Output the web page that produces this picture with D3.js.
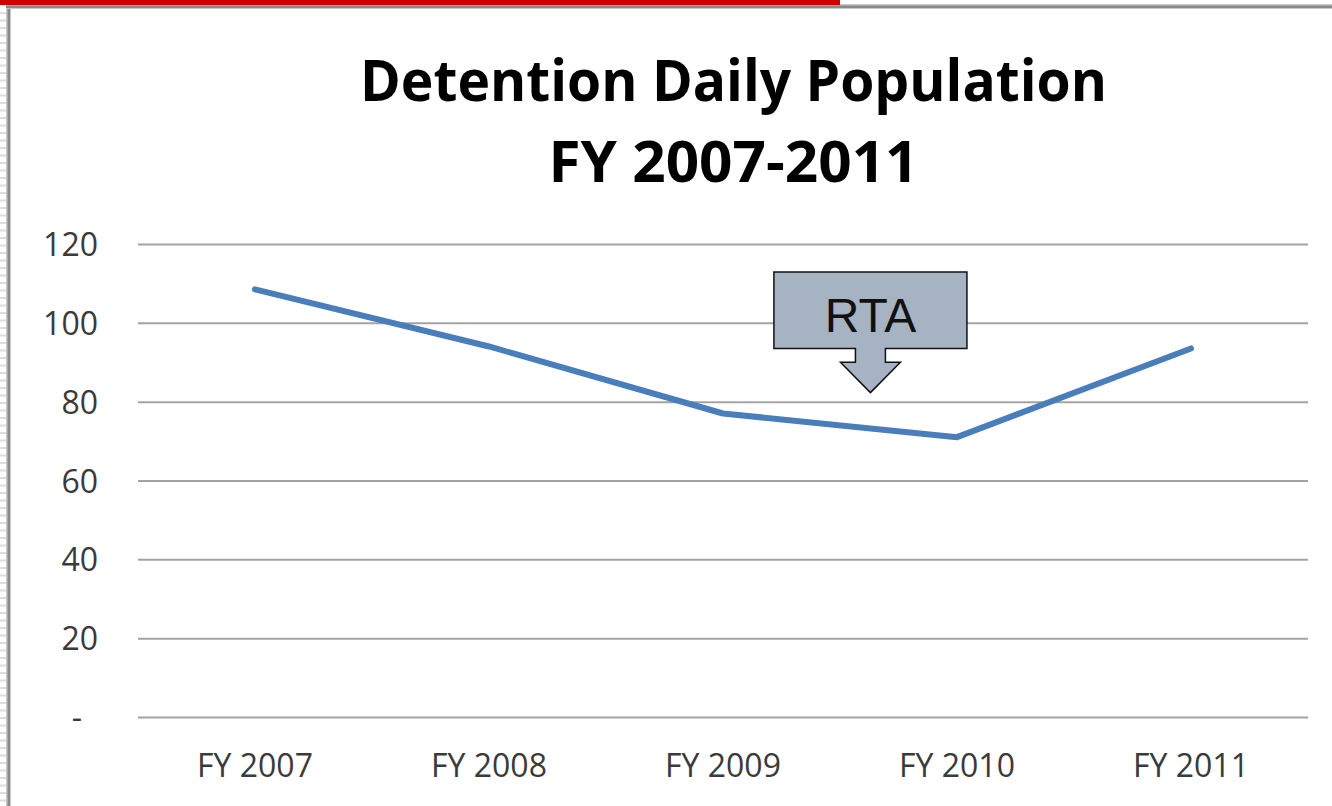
<!DOCTYPE html>
<html>
<head>
<meta charset="utf-8">
<script src="https://cdn.jsdelivr.net/npm/d3@7"></script>
<style>
  html, body { margin: 0; padding: 0; background: #ffffff; }
  svg { display: block; }
</style>
</head>
<body>
<svg id="chart" width="1332" height="806"></svg>
<script>
// ---- data ----
const categories = ["FY 2007", "FY 2008", "FY 2009", "FY 2010", "FY 2011"];
const population = [108.5, 94, 77, 71, 93.5];
const yTicks = [0, 20, 40, 60, 80, 100, 120];
const titleLines = ["Detention Daily Population", "FY 2007-2011"];
const annotationText = "RTA";

// ---- layout ----
const W = 1332, H = 806;
const plot = { left: 138, right: 1308, top: 244, bottom: 717 };
const svg = d3.select("#chart");
const fontFamily = "'Open Sans', 'Liberation Sans', sans-serif";
const textColor = "#3a3a3a";

// ---- page frame decorations ----
const frame = svg.append("g");
for (let yy = 12; yy < H; yy += 7.5) {
  frame.append("rect").attr("x", 0).attr("y", yy).attr("width", 6).attr("height", 2).attr("fill", "#dcdcdc");
}
frame.append("rect").attr("x", 6).attr("y", 5).attr("width", 5).attr("height", H - 5).attr("fill", "#c8c8c8");
frame.append("rect").attr("x", 7.5).attr("y", 5).attr("width", 2.5).attr("height", H - 5).attr("fill", "#8a8a8a");
frame.append("rect").attr("x", 6).attr("y", 4).attr("width", W - 6).attr("height", 5).attr("fill", "#c8c8c8");
frame.append("rect").attr("x", 6).attr("y", 5.5).attr("width", W - 6).attr("height", 2.5).attr("fill", "#8a8a8a");
frame.append("rect").attr("x", 0).attr("y", 0).attr("width", 840).attr("height", 5).attr("fill", "#cc0000");

// ---- scales ----
const x = d3.scaleBand().domain(categories).range([plot.left, plot.right]).paddingInner(0).paddingOuter(0);
const xc = d => x(d) + x.bandwidth() / 2;
const y = d3.scaleLinear().domain([0, 120]).range([plot.bottom, plot.top]);

// ---- y axis with gridlines ----
const yAxis = d3.axisLeft(y)
  .tickValues(yTicks)
  .tickSizeInner(-(plot.right - plot.left))
  .tickSizeOuter(0)
  .tickPadding(40)
  .tickFormat(d => d === 0 ? "-" : d3.format("d")(d));
const gy = svg.append("g").attr("transform", `translate(${plot.left},0)`).call(yAxis);
gy.select(".domain").remove();
gy.selectAll(".tick line").attr("stroke", "#a3a3a3").attr("stroke-width", 2);
gy.selectAll(".tick text")
  .attr("font-family", fontFamily).attr("font-size", 32).attr("fill", textColor)
  .attr("dy", "0.36em")
  .attr("x", d => d === 0 ? -56 : -40);

// ---- x axis ----
const xAxis = d3.axisBottom(x).tickSize(0).tickPadding(37);
const gx = svg.append("g").attr("transform", `translate(0,${plot.bottom})`).call(xAxis);
gx.select(".domain").remove();
gx.selectAll(".tick text")
  .attr("font-family", fontFamily).attr("font-size", 32).attr("fill", textColor);

// ---- line ----
const line = d3.line().x((d, i) => xc(categories[i])).y(d => y(d));
svg.append("path")
  .datum(population)
  .attr("d", line)
  .attr("fill", "none")
  .attr("stroke", "#4a7ebb")
  .attr("stroke-width", 6)
  .attr("stroke-linejoin", "round")
  .attr("stroke-linecap", "round");

// ---- title ----
const titleG = svg.append("g").attr("font-family", fontFamily).attr("font-weight", "bold").attr("fill", "#000");
const titleWidths = [747, 370];
const titleBaselines = [101, 182];
titleLines.forEach((t, i) => {
  titleG.append("text")
    .attr("x", 733.5).attr("y", titleBaselines[i])
    .attr("text-anchor", "middle")
    .attr("font-size", 58)
    .attr("textLength", titleWidths[i])
    .attr("lengthAdjust", "spacingAndGlyphs")
    .text(t);
});

// ---- RTA down-arrow callout ----
const idx = d3.scaleLinear().domain([0, categories.length - 1]).range([xc(categories[0]), xc(categories[categories.length - 1])]);
const cx = idx(2.63);
const boxTop = y(112.9), boxBottom = y(93.5), shaftBottom = y(90), tip = y(82.3);
const halfBox = 96.5, halfShaft = 15, halfHead = 30;
const pts = [
  [cx - halfBox, boxTop], [cx + halfBox, boxTop], [cx + halfBox, boxBottom],
  [cx + halfShaft, boxBottom], [cx + halfShaft, shaftBottom], [cx + halfHead, shaftBottom],
  [cx, tip], [cx - halfHead, shaftBottom], [cx - halfShaft, shaftBottom],
  [cx - halfShaft, boxBottom], [cx - halfBox, boxBottom]
];
svg.append("path")
  .attr("d", d3.line()(pts) + "Z")
  .attr("fill", "#a5b3c3")
  .attr("stroke", "#111")
  .attr("stroke-width", 1.5)
  .attr("stroke-linejoin", "miter");
svg.append("text")
  .attr("x", cx).attr("y", boxTop + 60)
  .attr("text-anchor", "middle")
  .attr("font-family", "'Liberation Sans', Arial, sans-serif")
  .attr("font-size", 48)
  .attr("fill", "#111")
  .text(annotationText);
</script>
</body>
</html>
